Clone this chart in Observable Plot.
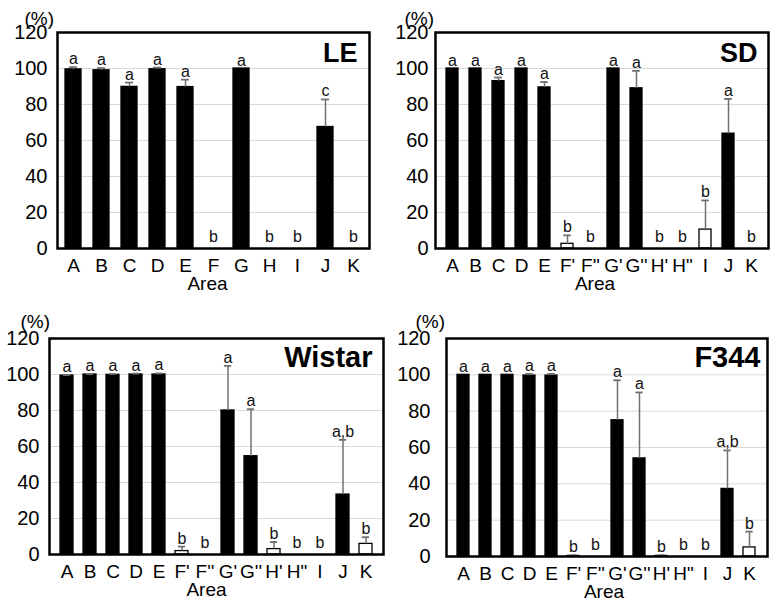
<!DOCTYPE html>
<html>
<head>
<meta charset="utf-8">
<script src="https://cdn.jsdelivr.net/npm/d3@7"></script>
<script src="https://cdn.jsdelivr.net/npm/@observablehq/plot@0.6"></script>
<style>
  html, body { margin: 0; padding: 0; background: #fff; }
  #fig { position: relative; width: 772px; height: 604px; background: #fff; overflow: hidden; }
  #fig > .panel { position: absolute; }
  #fig svg { overflow: visible; }
</style>
</head>
<body>
<div id="fig"></div>
<script>
// Percentage per brain area for four rat strains (mean + SD, letters = statistical groups)
const yTicks = [0, 20, 40, 60, 80, 100, 120];
const gridTicks = [20, 40, 60, 80, 100];

const leAreas   = ["A", "B", "C", "D", "E", "F", "G", "H", "I", "J", "K"];
const leValues  = [99.5, 99, 89.8, 99.6, 89.7, 0, 100, 0, 0, 67.5, 0];
const leErrors  = [1.2, 1.2, 2.4, 0.9, 4.1, 0, 0, 0, 0, 15.3, 0];
const leLetters = ["a", "a", "a", "a", "a", "b", "a", "b", "b", "c", "b"];

const sdAreas   = ["A", "B", "C", "D", "E", "F'", "F''", "G'", "G''", "H'", "H\"", "I", "J", "K"];
const sdValues  = [100, 100, 93, 100, 89.5, 2.6, 0, 100, 89, 0, 0, 10.5, 63.8, 0];
const sdErrors  = [0, 0, 2, 0, 3, 4.7, 0, 0, 9.7, 0, 0, 16.2, 19.3, 0];
const sdLetters = ["a", "a", "a", "a", "a", "b", "b", "a", "a", "b", "b", "b", "a", "b"];

const wistarAreas   = ["A", "B", "C", "D", "E", "F'", "F''", "G'", "G''", "H'", "H\"", "I", "J", "K"];
const wistarValues  = [99.4, 100, 99.8, 100, 100, 1.9, 0, 80, 54.6, 3, 0, 0, 33.3, 5.9];
const wistarErrors  = [0.3, 0.3, 0.5, 0.5, 0.6, 2.5, 0, 24.8, 26.1, 3.9, 0, 0, 30.4, 3.7];
const wistarLetters = ["a", "a", "a", "a", "a", "b", "b", "a", "a", "b", "b", "b", "a,b", "b"];

const f344Areas   = ["A", "B", "C", "D", "E", "F'", "F''", "G'", "G''", "H'", "H\"", "I", "J", "K"];
const f344Values  = [100, 100, 100, 99.6, 99.6, 0.3, 0, 75, 54, 0.3, 0, 0, 37.2, 5];
const f344Errors  = [0, 0, 0, 0.9, 0.9, 0.4, 0, 22, 36.3, 0.4, 0, 0, 21.2, 8.7];
const f344Letters = ["a", "a", "a", "a", "a", "b", "b", "a", "a", "b", "b", "b", "a,b", "b"];

const FONT = "'Liberation Sans', Arial, Helvetica, sans-serif";
const ERR = "#707070";

function drawPanel(p) {
  const rows = p.areas.map((a, i) => ({
    area: a, value: p.values[i], error: p.errors[i], letter: p.letters[i],
    top: p.values[i] + p.errors[i]
  }));
  const innerW = p.width - p.ml - p.mr;
  const step = innerW / p.areas.length;
  const bandwidth = step * p.barFrac;
  const capInset = Math.max(0, (bandwidth - 8) / 2);
  const withErr = rows.filter(d => d.error > 0);

  const chart = Plot.plot({
    width: p.width,
    height: p.height,
    marginLeft: p.ml, marginRight: p.mr, marginTop: p.mt, marginBottom: p.mb,
    style: { fontFamily: FONT, color: "black", background: "transparent", overflow: "visible" },
    x: { domain: p.areas, paddingInner: 1 - p.barFrac, paddingOuter: (1 - p.barFrac) / 2, label: null },
    y: { domain: [0, 120], label: null },
    marks: [
      Plot.gridY(gridTicks, { stroke: "#d9d9d9", strokeOpacity: 1, strokeWidth: 1 }),
      Plot.barY(rows, {
        x: "area", y: "value",
        fill: d => d.letter === "b" ? "white" : "black",
        stroke: "black", strokeWidth: 1.3
      }),
      Plot.ruleX(withErr, { x: "area", y1: "value", y2: "top", stroke: ERR, strokeWidth: 1.5 }),
      Plot.tickY(withErr, { x: "area", y: "top", stroke: ERR, strokeWidth: 1.8, insetLeft: capInset, insetRight: capInset }),
      Plot.text(rows.filter(d => d.top > 0), {
        x: "area", y: "top", text: "letter", lineAnchor: "bottom", dy: -3, fontSize: 16, fill: "#111"
      }),
      Plot.text(rows.filter(d => d.top === 0), {
        x: "area", y: "top", text: "letter", lineAnchor: "bottom", dy: -7, fontSize: 16, fill: "#111"
      }),
      Plot.axisY({ ticks: yTicks, tickSize: 0, tickPadding: p.yPad, fontSize: 20, label: null }),
      Plot.axisX({ tickSize: 0, tickPadding: 10, fontSize: 19, label: null }),
      Plot.frame({ stroke: "black", strokeWidth: 2.5 }),
      Plot.text([p.title], {
        text: d => d, frameAnchor: "top-right", textAnchor: "end", lineAnchor: "top",
        dx: p.titleDx, dy: p.titleDy, fontSize: p.titleSize, fontWeight: "bold"
      }),
      Plot.text(["(%)"], {
        text: d => d, frameAnchor: "top-left", dx: p.pctDx, dy: p.pctDy, fontSize: 19
      }),
      Plot.text(["Area"], {
        text: d => d, frameAnchor: "bottom", dx: p.areaDx, dy: 41, fontSize: 19
      })
    ]
  });
  const holder = document.createElement("div");
  holder.className = "panel";
  holder.style.left = p.left + "px";
  holder.style.top = p.top + "px";
  holder.appendChild(chart);
  document.getElementById("fig").appendChild(holder);
}

drawPanel({
  title: "LE", areas: leAreas, values: leValues, errors: leErrors, letters: leLetters,
  left: 0, top: 0, width: 386, height: 300, ml: 57, mr: 17, mt: 32, mb: 52,
  barFrac: 0.56, yPad: 10, titleSize: 27, titleDx: -12, titleDy: 10,
  pctDx: -33, pctDy: -21, areaDx: -6
});
drawPanel({
  title: "SD", areas: sdAreas, values: sdValues, errors: sdErrors, letters: sdLetters,
  left: 386, top: 0, width: 386, height: 300, ml: 49, mr: 4, mt: 32, mb: 52,
  barFrac: 0.52, yPad: 7, titleSize: 27, titleDx: -11, titleDy: 10,
  pctDx: -31, pctDy: -21, areaDx: -7
});
drawPanel({
  title: "Wistar", areas: wistarAreas, values: wistarValues, errors: wistarErrors, letters: wistarLetters,
  left: 0, top: 300, width: 386, height: 304, ml: 49, mr: 3, mt: 38, mb: 50,
  barFrac: 0.58, yPad: 10, titleSize: 29, titleDx: -11, titleDy: 8,
  pctDx: -29, pctDy: -24, areaDx: -10
});
drawPanel({
  title: "F344", areas: f344Areas, values: f344Values, errors: f344Errors, letters: f344Letters,
  left: 386, top: 300, width: 386, height: 304, ml: 60, mr: 5, mt: 38, mb: 48,
  barFrac: 0.55, yPad: 16, titleSize: 29, titleDx: -7, titleDy: 8,
  pctDx: -31, pctDy: -24, areaDx: -3
});
</script>
</body>
</html>
